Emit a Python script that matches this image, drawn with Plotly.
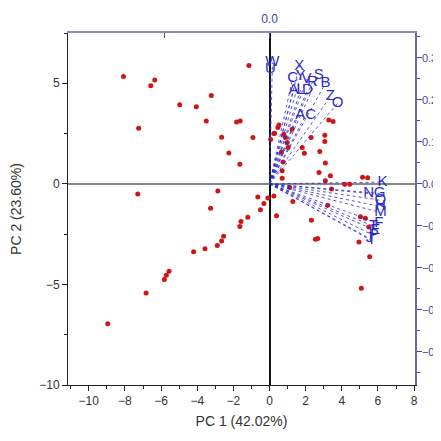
import plotly.graph_objects as go

# Scores (PC1, PC2)
pc1 = [-8.08, -6.57, -6.35, -1.14, -4.97, -4.05, -3.22, -7.24, -3.50, -1.82, -1.62, -2.65,
       -0.92, -2.25, -1.64, 0.06, 0.24, 0.46, -7.29, -2.86, -0.65, -0.09, 0.24, -0.31,
       -3.26, -0.50, 0.39, -1.20, -1.58, -1.64, -2.54, -2.65, -2.89, -3.57, -4.20, -5.56,
       -5.71, -5.82, -6.83, -8.95, 0.52, 0.28, 0.79, 0.88, 1.25, 0.98, 1.03, 0.66, 0.76,
       0.70, 0.70, 1.81, 1.93, 2.30, 3.28, 3.52, 3.06, 3.06, 2.78, 3.09, 2.74, 3.37, 3.09,
       4.16, 4.44, 5.15, 5.43, 3.43, 1.12, 1.29, 3.22, 2.32, 2.54, 2.67, 5.03, 5.30, 5.49,
       4.95, 5.54, 5.08]
pc2 = [5.34, 4.88, 5.16, 5.89, 3.93, 3.83, 4.39, 2.77, 3.13, 3.07, 3.12, 2.32,
       2.30, 1.54, 0.98, 2.20, 2.50, 2.80, -0.50, -0.35, -0.65, -0.70, -0.60, -0.98,
       -1.21, -1.29, -1.58, -1.66, -1.87, -2.12, -2.60, -2.84, -3.07, -3.23, -3.38, -4.34,
       -4.54, -4.76, -5.42, -6.95, 2.92, 2.52, 2.47, 2.30, 2.72, 2.06, 1.81, 1.59, 1.09,
       0.65, 0.28, 1.81, 1.52, 2.30, 3.17, 3.10, 2.42, 2.10, 1.61, 1.04, 0.56, 0.40, 0.15,
       -0.02, -0.02, 0.33, 0.30, -0.26, -0.18, -0.88, -1.06, -1.81, -2.75, -2.72, -1.63, -1.71, -2.14,
       -2.89, -3.62, -5.19]

# Loadings (on secondary axes)
load_names = ["W", "U", "X", "C", "Y", "V", "S", "A", "L", "D", "R", "B", "Z", "O", "AC",
              "K", "N", "G", "Q", "H", "M", "F", "T", "E", "P", "J", "I"]
load_x = [0.007, 0.002, 0.071, 0.055, 0.074, 0.088, 0.117, 0.057, 0.074, 0.090, 0.102, 0.133,
          0.145, 0.162, 0.086,
          0.269, 0.236, 0.262, 0.264, 0.264, 0.264, 0.260, 0.248, 0.252, 0.248, 0.238, 0.243]
load_y = [0.289, 0.273, 0.280, 0.251, 0.256, 0.249, 0.258, 0.223, 0.223, 0.223, 0.242, 0.239,
          0.208, 0.192, 0.163,
          0.004, -0.023, -0.023, -0.039, -0.054, -0.068, -0.094, -0.101, -0.111, -0.123, -0.130, -0.135]

blue = "#2b2bc8"
navy = "#45459a"

fig = go.Figure()

for i, n in enumerate(load_names):
    fig.add_trace(go.Scatter(x=[0, load_x[i]], y=[0, load_y[i]], mode="lines",
                             line=dict(color=blue, width=0.8, dash="dot"),
                             xaxis="x2", yaxis="y2", showlegend=False, hoverinfo="skip"))

fig.add_trace(go.Scatter(x=pc1, y=pc2, mode="markers",
                         marker=dict(color="#d01515", size=5),
                         showlegend=False))

fig.add_trace(go.Scatter(x=load_x, y=load_y, mode="text", text=load_names,
                         textposition="middle center",
                         textfont=dict(color=blue, size=15, family="Liberation Sans"),
                         xaxis="x2", yaxis="y2", showlegend=False))

fig.update_layout(
    width=433, height=433,
    margin=dict(l=60, r=26, t=25, b=56, autoexpand=False),
    plot_bgcolor="white", paper_bgcolor="white",
    font=dict(family="Liberation Sans", size=12, color="#333333"),
    xaxis=dict(range=[-11.15, 8.05], tickvals=[-10, -8, -6, -4, -2, 0, 2, 4, 6, 8],
               ticks="outside", ticklen=5, tickcolor="#222", showgrid=False,
               showline=True, linecolor="#222", linewidth=1,
               zeroline=True, zerolinecolor="#111", zerolinewidth=1.5,
               minor=dict(dtick=1, ticks="outside", ticklen=3, tickcolor="#222"),
               title=dict(text="PC 1 (42.02%)", font=dict(size=14), standoff=8)),
    yaxis=dict(range=[-10, 7.5], tickvals=[-10, -5, 0, 5],
               ticks="outside", ticklen=5, tickcolor="#222", showgrid=False,
               showline=True, linecolor="#222", linewidth=1,
               zeroline=True, zerolinecolor="#888", zerolinewidth=2,
               minor=dict(dtick=2.5, ticks="outside", ticklen=3, tickcolor="#222"),
               title=dict(text="PC 2 (23.60%)", font=dict(size=14), standoff=14)),
    xaxis2=dict(overlaying="x", side="top", range=[-0.4797, 0.3463],
                tickvals=[-0.25, 0], ticktext=["", "0.0"], ticks="inside", ticklen=5,
                tickcolor=navy, tickfont=dict(color=navy, size=12), ticklabelstandoff=3,
                showline=True, linecolor="#8a8ab8", linewidth=1.5,
                showgrid=False, zeroline=False),
    yaxis2=dict(overlaying="y", side="right", range=[-0.479, 0.359],
                tickvals=[-0.4, -0.3, -0.2, -0.1, 0, 0.1, 0.2, 0.3],
                ticktext=["\u22120.4", "\u22120.3", "\u22120.2", "\u22120.1", "0.0", "0.1", "0.2", "0.3"],
                ticks="outside", ticklen=5, tickcolor=navy,
                tickfont=dict(color=navy, size=11), ticklabelstandoff=-2,
                minor=dict(dtick=0.05, ticks="outside", ticklen=3, tickcolor=navy),
                showline=True, linecolor="#6a6aa8", linewidth=1.5,
                showgrid=False, zeroline=False),
)

fig.write_html("out.html")
